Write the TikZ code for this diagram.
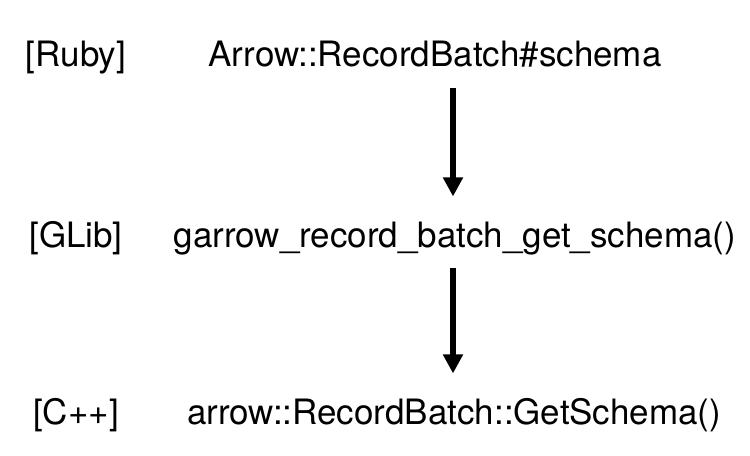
\documentclass[tikz,border=0pt]{standalone}
\usepackage{fontspec}
\setmainfont{TeX Gyre Heros}
\usepackage{xcolor}
\usepackage{tikz}
\usetikzlibrary{arrows.meta,positioning}
\definecolor{inkblack}{HTML}{000000}
\tikzset{
  layer/.style={anchor=base, inner sep=0pt, text height=0.75em, text depth=0.25em, font=\fontsize{19.9}{23}\selectfont, text=inkblack},
  call/.style={anchor=base, inner sep=0pt, text height=0.75em, text depth=0.25em, font=\fontsize{19.9}{23}\selectfont, text=inkblack},
  arrow/.style={-{Triangle[length=3.8mm, width=3.8mm]}, line width=3.1pt, draw=inkblack, shorten <=3.2mm, shorten >=7.4mm}
}

\begin{document}
\begin{tikzpicture}[x=0.02cm, y=-0.02cm]
  \useasboundingbox (0,0) rectangle (750,456);

  \node[layer] (ruby) at (76,67) {[Ruby]};
  \node[call] (rubycall) at (435,67) {Arrow::RecordBatch\#schema};

  \node[layer] (glib) at (76,247) {[GLib]};
  \node[call] (glibcall) at (455,247) {garrow\_record\_batch\_get\_schema()};

  \node[layer] (cpp) at (76,424) {[C++]};
  \node[call] (cppcall) at (454,424) {arrow::RecordBatch::GetSchema()};

  \draw[arrow] (rubycall.south -| 453,0) -- (glibcall.north -| 453,0);
  \draw[arrow] (glibcall.south -| 453,0) -- (cppcall.north -| 453,0);
\end{tikzpicture}
\end{document}
